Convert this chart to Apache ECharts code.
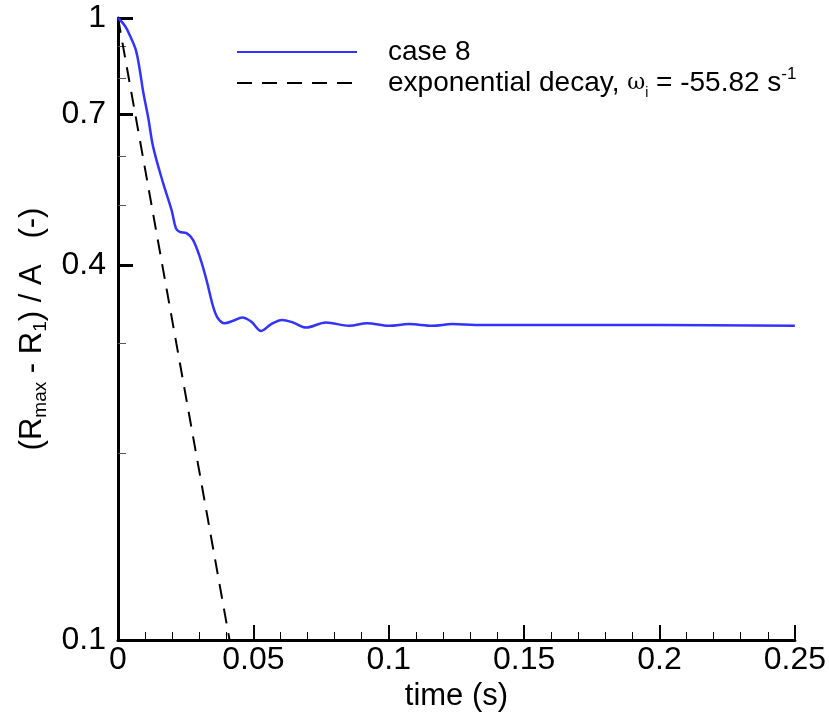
<!DOCTYPE html>
<html>
<head>
<meta charset="utf-8">
<script src="https://cdn.jsdelivr.net/npm/echarts@6/dist/echarts.min.js"></script>
<style>
  html, body { margin: 0; padding: 0; background: #fff; }
  #chart { width: 829px; height: 718px; }
</style>
</head>
<body>
<div id="chart"></div>
<script>
// case 8 amplitude decay
const caseTime = [0, 0.0026, 0.0044, 0.0066, 0.0081, 0.0093, 0.0112, 0.0130,
  0.0167, 0.0198, 0.0214, 0.0228, 0.0253, 0.0277, 0.0302, 0.0327, 0.0351, 0.0369,
  0.0394, 0.0425, 0.0459, 0.0492, 0.0529, 0.0566, 0.0606, 0.0646, 0.0695, 0.0768,
  0.0854, 0.0920, 0.1001, 0.1075, 0.1161, 0.1235, 0.1321, 0.15, 0.2, 0.25]
const caseValue = [1.0, 0.971, 0.937, 0.888, 0.822, 0.761, 0.690, 0.620,
  0.542, 0.491, 0.459, 0.453, 0.451, 0.440, 0.413, 0.379, 0.344, 0.329,
  0.323, 0.326, 0.330, 0.325, 0.314, 0.322, 0.327, 0.324, 0.318, 0.324,
  0.320, 0.323, 0.320, 0.322, 0.320, 0.322, 0.321, 0.321, 0.321, 0.320]

// exponential decay line (straight on log axis)
const decayTime = [0, 0.0412]
const decayValue = [1, 0.1]

// y ticks
const yMajorTicks = [0.1, 0.4, 0.7, 1]
const yMinorTicks = [0.2, 0.3, 0.5, 0.6, 0.8, 0.9]

const FONT = 'Liberation Sans'
const zip = (xs, ys) => xs.map((x, i) => [x, ys[i]])

const chart = echarts.init(document.getElementById('chart'))

const legendNames = {
  'case 8': '{n|case 8}',
  'exponential decay': '{n|exponential decay, }{w|ω}{s|i}{n| = -55.82 s}{p|-1}'
}

const option = {
  animation: false,
  backgroundColor: '#fff',
  grid: { left: 118, right: 32, top: 18, bottom: 78 },
  legend: {
    orient: 'vertical',
    left: 231,
    top: 33,
    itemWidth: 120,
    itemHeight: 20,
    itemGap: 0,
    itemStyle: { opacity: 0 },
    data: ['case 8', 'exponential decay'],
    formatter: name => legendNames[name],
    textStyle: {
      padding: [0, 0, 0, 26],
      rich: {
        n: { fontFamily: FONT, fontSize: 28, color: '#000', lineHeight: 34 },
        w: { fontFamily: 'DejaVu Serif', fontSize: 22, color: '#000', lineHeight: 34 },
        s: { fontFamily: FONT, fontSize: 14, color: '#000', lineHeight: 14, verticalAlign: 'bottom' },
        p: { fontFamily: FONT, fontSize: 17, color: '#000', lineHeight: 17, verticalAlign: 'top' }
      }
    }
  },
  xAxis: {
    type: 'value',
    min: 0,
    max: 0.25,
    interval: 0.05,
    name: 'time (s)',
    nameLocation: 'middle',
    nameGap: 35,
    nameTextStyle: { fontFamily: FONT, fontSize: 31, color: '#000' },
    axisLine: { lineStyle: { color: '#000', width: 3 } },
    axisTick: { inside: true, length: 15, lineStyle: { color: '#000', width: 2 } },
    minorTick: { show: true, splitNumber: 5, length: 8, lineStyle: { color: '#000', width: 1 } },
    axisLabel: {
      fontFamily: FONT, fontSize: 32, color: '#000', margin: 4,
      formatter: v => String(+v.toFixed(2))
    },
    splitLine: { show: false }
  },
  yAxis: [
    {
      type: 'log',
      min: 0.1,
      max: 1,
      name: '{n|(R}{s|max}{n| - R}{s|1}{n|) / A   (-)}',
      nameLocation: 'middle',
      nameRotate: 90,
      nameGap: 68,
      nameTextStyle: {
        rich: {
          n: { fontFamily: FONT, fontSize: 31, color: '#000', lineHeight: 36 },
          s: { fontFamily: FONT, fontSize: 19, color: '#000', lineHeight: 19, verticalAlign: 'bottom' }
        }
      },
      axisLine: { lineStyle: { color: '#000', width: 3 } },
      axisTick: { inside: true, length: 15, customValues: yMajorTicks, lineStyle: { color: '#000', width: 3 } },
      axisLabel: {
        fontFamily: FONT, fontSize: 32, color: '#000', margin: 12,
        customValues: yMajorTicks,
        formatter: v => String(+(+v).toFixed(2))
      },
      splitLine: { show: false }
    },
    {
      type: 'log',
      min: 0.1,
      max: 1,
      position: 'left',
      axisLine: { show: false },
      axisTick: { inside: true, length: 8, customValues: yMinorTicks, lineStyle: { color: '#555', width: 1 } },
      axisLabel: { show: false },
      splitLine: { show: false }
    }
  ],
  series: [
    {
      name: 'case 8',
      type: 'line',
      data: zip(caseTime, caseValue),
      smooth: 0.35,
      symbol: 'none',
      lineStyle: { color: '#3333ff', width: 2.5 },
      itemStyle: { color: '#3333ff' },
      z: 3
    },
    {
      name: 'exponential decay',
      type: 'line',
      data: zip(decayTime, decayValue),
      symbol: 'none',
      lineStyle: { color: '#000', width: 2, type: [15, 10] },
      itemStyle: { color: '#000' },
      z: 2
    }
  ]
}

chart.setOption(option)
</script>
</body>
</html>
